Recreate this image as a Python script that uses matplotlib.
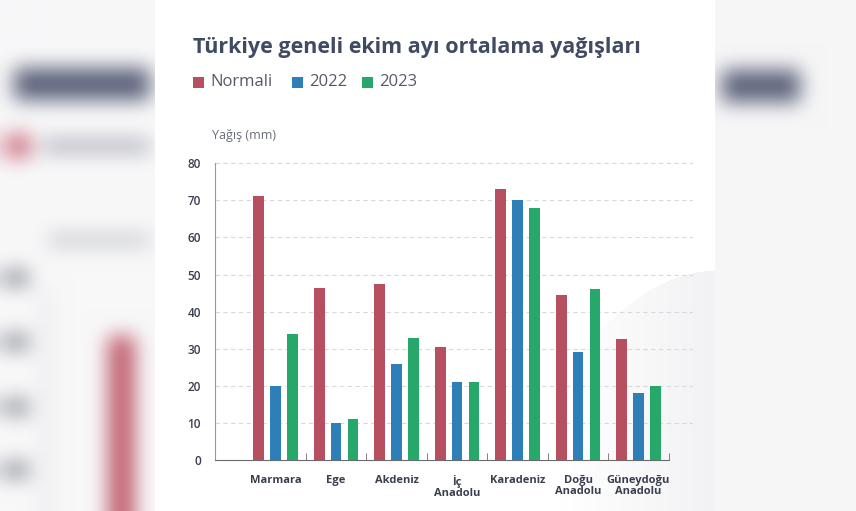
import matplotlib.pyplot as plt
from matplotlib.patches import Rectangle
import numpy as np

# Data
regions = ['Marmara', 'Ege', 'Akdeniz', 'İç\nAnadolu', 'Karadeniz', 'Doğu\nAnadolu', 'Güneydoğu\nAnadolu']
normali = [71.2, 46.5, 47.5, 30.6, 73.2, 44.5, 32.5]
y2022 = [20, 10, 26, 21, 70, 29, 18]
y2023 = [34, 11, 33, 21, 68, 46, 20]
series_names = ['Normali', '2022', '2023']

colors = ['#b64f5f', '#2e7eb8', '#27a86b']
title_color = '#404a63'
text_color = '#3a3f4e'

plt.rcParams['font.family'] = ['Open Sans', 'DejaVu Sans']

W, H = 856, 511


def box_blur(img, r):
    # box blur along both axes, repeated so it looks gaussian
    for _ in range(3):
        for axis in (0, 1):
            pad = [(0, 0)] * img.ndim
            pad[axis] = (r + 1, r)
            p = np.pad(img, pad, mode='edge')
            c = np.cumsum(p, axis=axis)
            n = img.shape[axis]
            hi = np.take(c, np.arange(2 * r + 1, 2 * r + 1 + n), axis=axis)
            lo = np.take(c, np.arange(0, n), axis=axis)
            img = (hi - lo) / (2 * r + 1)
    return img


def hex2rgb(h):
    return np.array([int(h[i:i + 2], 16) / 255 for i in (1, 3, 5)])


# blurred backdrop (enlarged copy of the chart behind the card)
bg = np.ones((H, W, 3)) * hex2rgb('#f8f8f9')
bg[:, 700:] = hex2rgb('#f6f6f7')
bg[68:100, 14:150] = hex2rgb('#5c627a')
bg[134:158, 6:30] = hex2rgb('#cc6e80')
bg[140:152, 42:150] = hex2rgb('#a8aab6')
bg[234:246, 48:150] = hex2rgb('#c8c9d0')
for yy in (278, 342, 407, 470):
    bg[yy - 7:yy + 7, 4:28] = hex2rgb('#7c7e8a')
bg[290:, 43:48] = hex2rgb('#dcdce2')
bg[336:, 108:135] = hex2rgb('#c0606f')
bg[70:102, 722:800] = hex2rgb('#5c627a')
bg = box_blur(bg, 9)
# white card in the middle
bg[:, 155:715] = 1.0
# faint curved shading at the lower right of the card
yy, xx = np.mgrid[0:H, 0:W]
ycurve = 270 + 0.0042 * (713 - xx) ** 2 + 0.05 * (713 - xx)
mask = (yy > ycurve) & (xx >= 560) & (xx < 715)
fade = np.clip((xx - 560) / 155.0, 0, 1)[..., None]
shade = hex2rgb('#f2f2f4')
bg = np.where(mask[..., None], 1.0 - fade * (1.0 - shade), bg)

fig = plt.figure(figsize=(8.56, 5.11), dpi=100)
fig.figimage(np.clip(bg, 0, 1), xo=0, yo=0, origin='upper', zorder=-10)

ax = fig.add_axes([215 / W, (H - 460) / H, (693 - 215) / W, (460 - 163.3) / H * 80.4 / 80])
ax.set_facecolor('none')
ax.set_zorder(2)

x = np.arange(len(regions))
bw = 0.18
off = 0.28
for k, vals in enumerate([normali, y2022, y2023]):
    ax.bar(x + (k - 1) * off, vals, width=bw, color=colors[k], zorder=3)

ax.set_xlim(-1, 6.9)
ax.set_ylim(0, 80.4)
ax.set_yticks(range(0, 81, 10))
for v in range(10, 81, 10):
    ax.axhline(v, color='#d9d9dd', lw=0.8, ls=(0, (4, 3)), zorder=1)

for s in ['top', 'right']:
    ax.spines[s].set_visible(False)
ax.spines['left'].set_color('#9a9a9a')
ax.spines['left'].set_bounds(0, 80)
ax.spines['bottom'].set_color('#6b6b6b')
ax.spines['bottom'].set_bounds(-1, 6.5)

ax.set_xticks(x)
ax.set_xticklabels(regions, fontsize=8, fontweight='bold', color=text_color, linespacing=1.0)
ax.set_xticks(np.arange(0.5, 7, 1), minor=True)
ax.tick_params(axis='x', which='major', length=0, pad=11)
ax.tick_params(axis='x', which='minor', direction='in', length=5, color='#6b6b6b')
ax.tick_params(axis='y', length=0, pad=10, labelsize=8.5, labelcolor=text_color)
for t in ax.get_yticklabels():
    t.set_fontweight('semibold')

fig.text(193 / W, 1 - 48 / H, 'Türkiye geneli ekim ayı ortalama yağışları', fontsize=15.5,
         fontweight='bold', color=title_color, va='center', ha='left')

fig.text(212 / W, 1 - 135 / H, 'Yağış (mm)', fontsize=9, color='#6a6e78', va='center', ha='left')

# legend
leg_x = [193, 292, 362]
for k, name in enumerate(series_names):
    fig.patches.append(Rectangle((leg_x[k] / W, 1 - 88 / H), 11 / W, 11 / H,
                                 transform=fig.transFigure, facecolor=colors[k], edgecolor='none'))
    fig.text((leg_x[k] + 17) / W, 1 - 82 / H, name, fontsize=12, color='#555a66',
             va='center', ha='left')

fig.savefig('out.png', dpi=100)
